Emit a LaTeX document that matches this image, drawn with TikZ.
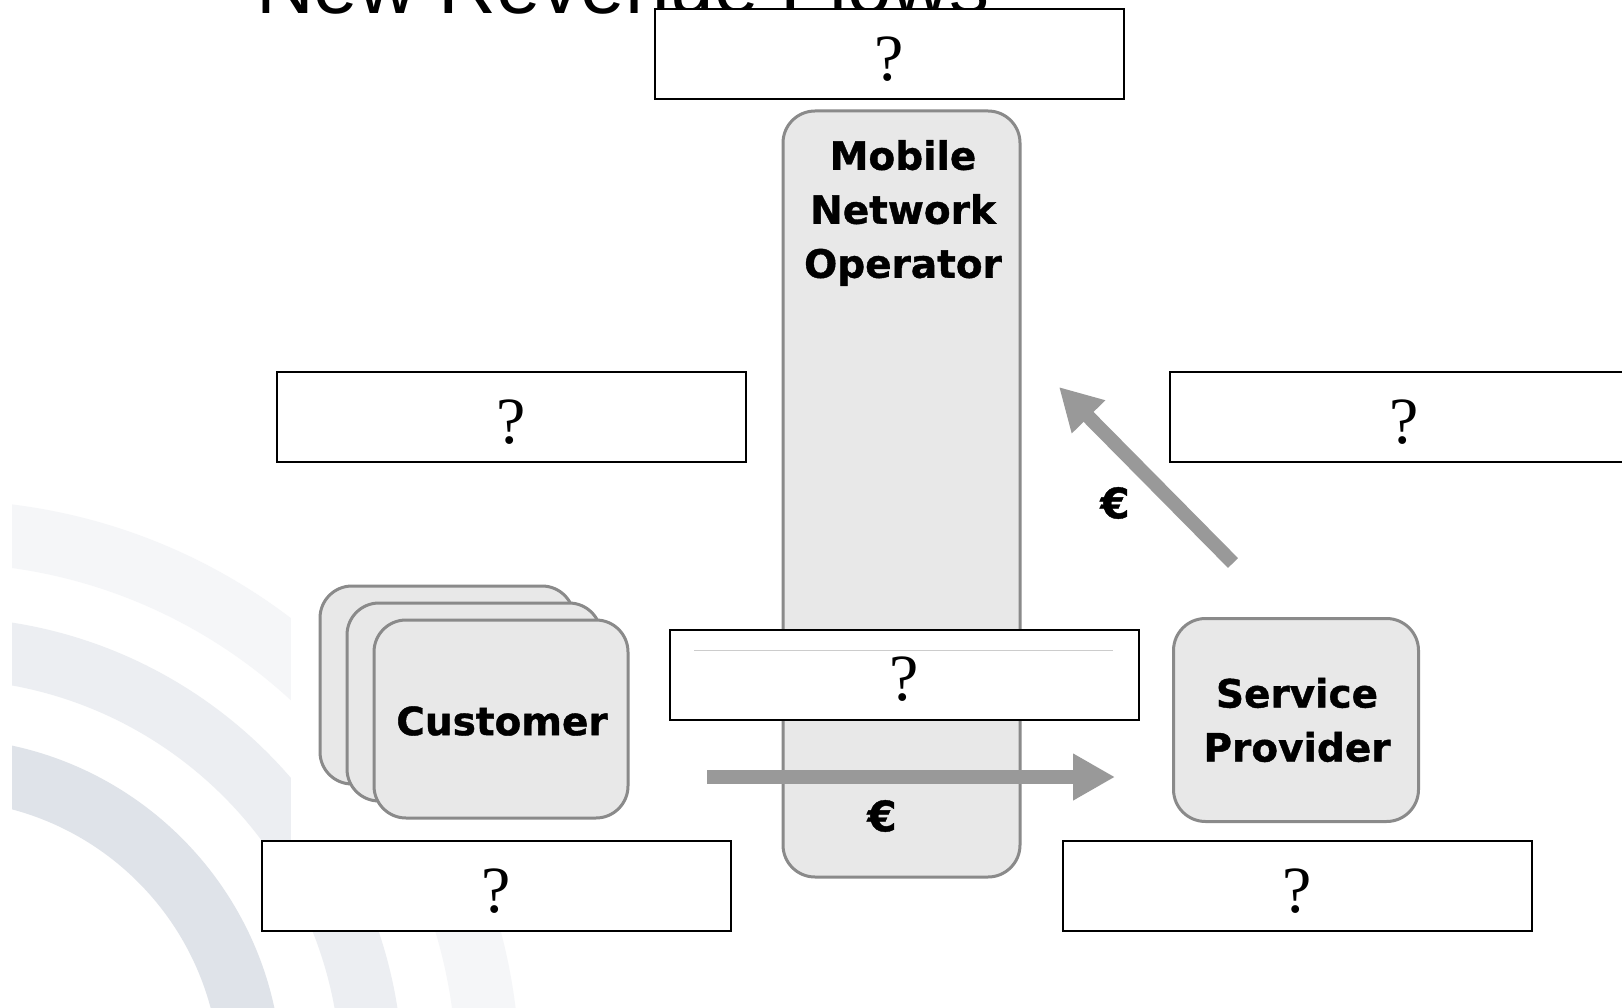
\documentclass[tikz,border=0pt]{standalone}
\usepackage{fontspec}
\setmainfont{Liberation Serif}
\newfontfamily\labfont{DejaVu Sans}[BoldFeatures={FakeBold=1}]
\newfontfamily\titlefont{Liberation Sans}
\usetikzlibrary{arrows.meta}
\definecolor{bandA}{HTML}{F5F6F8}
\definecolor{bandB}{HTML}{ECEEF2}
\definecolor{bandC}{HTML}{DFE3E9}
\definecolor{entfill}{HTML}{E8E8E8}
\definecolor{entborder}{HTML}{8A8A8A}
\definecolor{flowgray}{HTML}{999999}
\tikzset{
  qbox/.style={draw=black, line width=2pt, fill=white, minimum width=469pt, minimum height=90pt, inner sep=0pt, font=\fontsize{66}{66}\selectfont},
  ent/.style={draw=entborder, line width=3pt, fill=entfill, rounded corners=32pt, inner sep=0pt},
  lab/.style={font=\labfont\bfseries\fontsize{39}{54}\selectfont, align=center, inner sep=0pt},
  eur/.style={font=\labfont\bfseries\fontsize{42}{42}\selectfont, inner sep=0pt},
  flow/.style={draw=flowgray, line width=14pt, -{Triangle[length=42pt,width=44pt]}},
}
\newcommand{\qmark}{\raisebox{-26pt}[0pt][0pt]{?}}
\begin{document}
\begin{tikzpicture}[x=1pt,y=-1pt]
\useasboundingbox (0,0) rectangle (1622,1008);
\clip (0,0) rectangle (1622,1008);
\fill[white] (0,0) rectangle (1622,1008);
% background arcs
\begin{scope}
  \clip (12,0) rectangle (1622,1008);
  \fill[bandA, even odd rule] (-60,1080) circle[radius=580] (-60,1080) circle[radius=517];
  \fill[bandB, even odd rule] (-60,1080) circle[radius=463] (-60,1080) circle[radius=401];
  \fill[bandC, even odd rule] (-60,1080) circle[radius=342] (-60,1080) circle[radius=280];
\end{scope}
\fill[white] (291,0) rectangle (1622,932);
% title (mostly cut off)
\node[anchor=base west, inner sep=0pt, font=\titlefont\fontsize{80}{82}\selectfont] (title) at (256,14) {New Revenue Flows};
% mobile network operator
\node[ent, minimum width=237pt, minimum height=766pt] (mno) at (901.5,494) {};
\node[lab] (mnotxt) at (903,213) {Mobile\\Network\\Operator};
% customers
\node[ent, minimum width=254pt, minimum height=198pt] (cust3) at (447,685) {};
\node[ent, minimum width=254pt, minimum height=198pt] (cust2) at (474,702) {};
\node[ent, minimum width=254pt, minimum height=198pt] (cust) at (501,719) {};
\node[lab] (custtxt) at (502,721) {Customer};
% service provider
\node[ent, minimum width=245pt, minimum height=203pt] (sp) at (1296,720) {};
\node[lab] (sptxt) at (1297,720) {Service\\Provider};
% question boxes
\node[qbox] (qtop) at (889.5,54.5) {\qmark};
\node[qbox] (qleft) at (511,417) {\qmark};
\node[qbox] (qright) at (1404,417) {\qmark};
\node[qbox] (qmid) at (904.5,674.5) {\qmark};
\node[qbox] (qbl) at (496,886) {\qmark};
\node[qbox] (qbr) at (1297.5,886) {\qmark};
\draw[black!20, line width=0.8pt] ([xshift=25pt, yshift=-22pt]qmid.north west) -- ([xshift=-27pt, yshift=-22pt]qmid.north east);
% money flows
\coordinate (h1) at (707,777);
\coordinate (h2) at (1115,777);
\coordinate (d1) at (1233,563);
\coordinate (d2) at (1059,387);
\draw[flow] (h1) -- (h2);
\draw[flow] (d1) -- (d2);
\node[eur] (eur1) at (882,816) {€};
\node[eur] (eur2) at (1115,503) {€};
\end{tikzpicture}
\end{document}
